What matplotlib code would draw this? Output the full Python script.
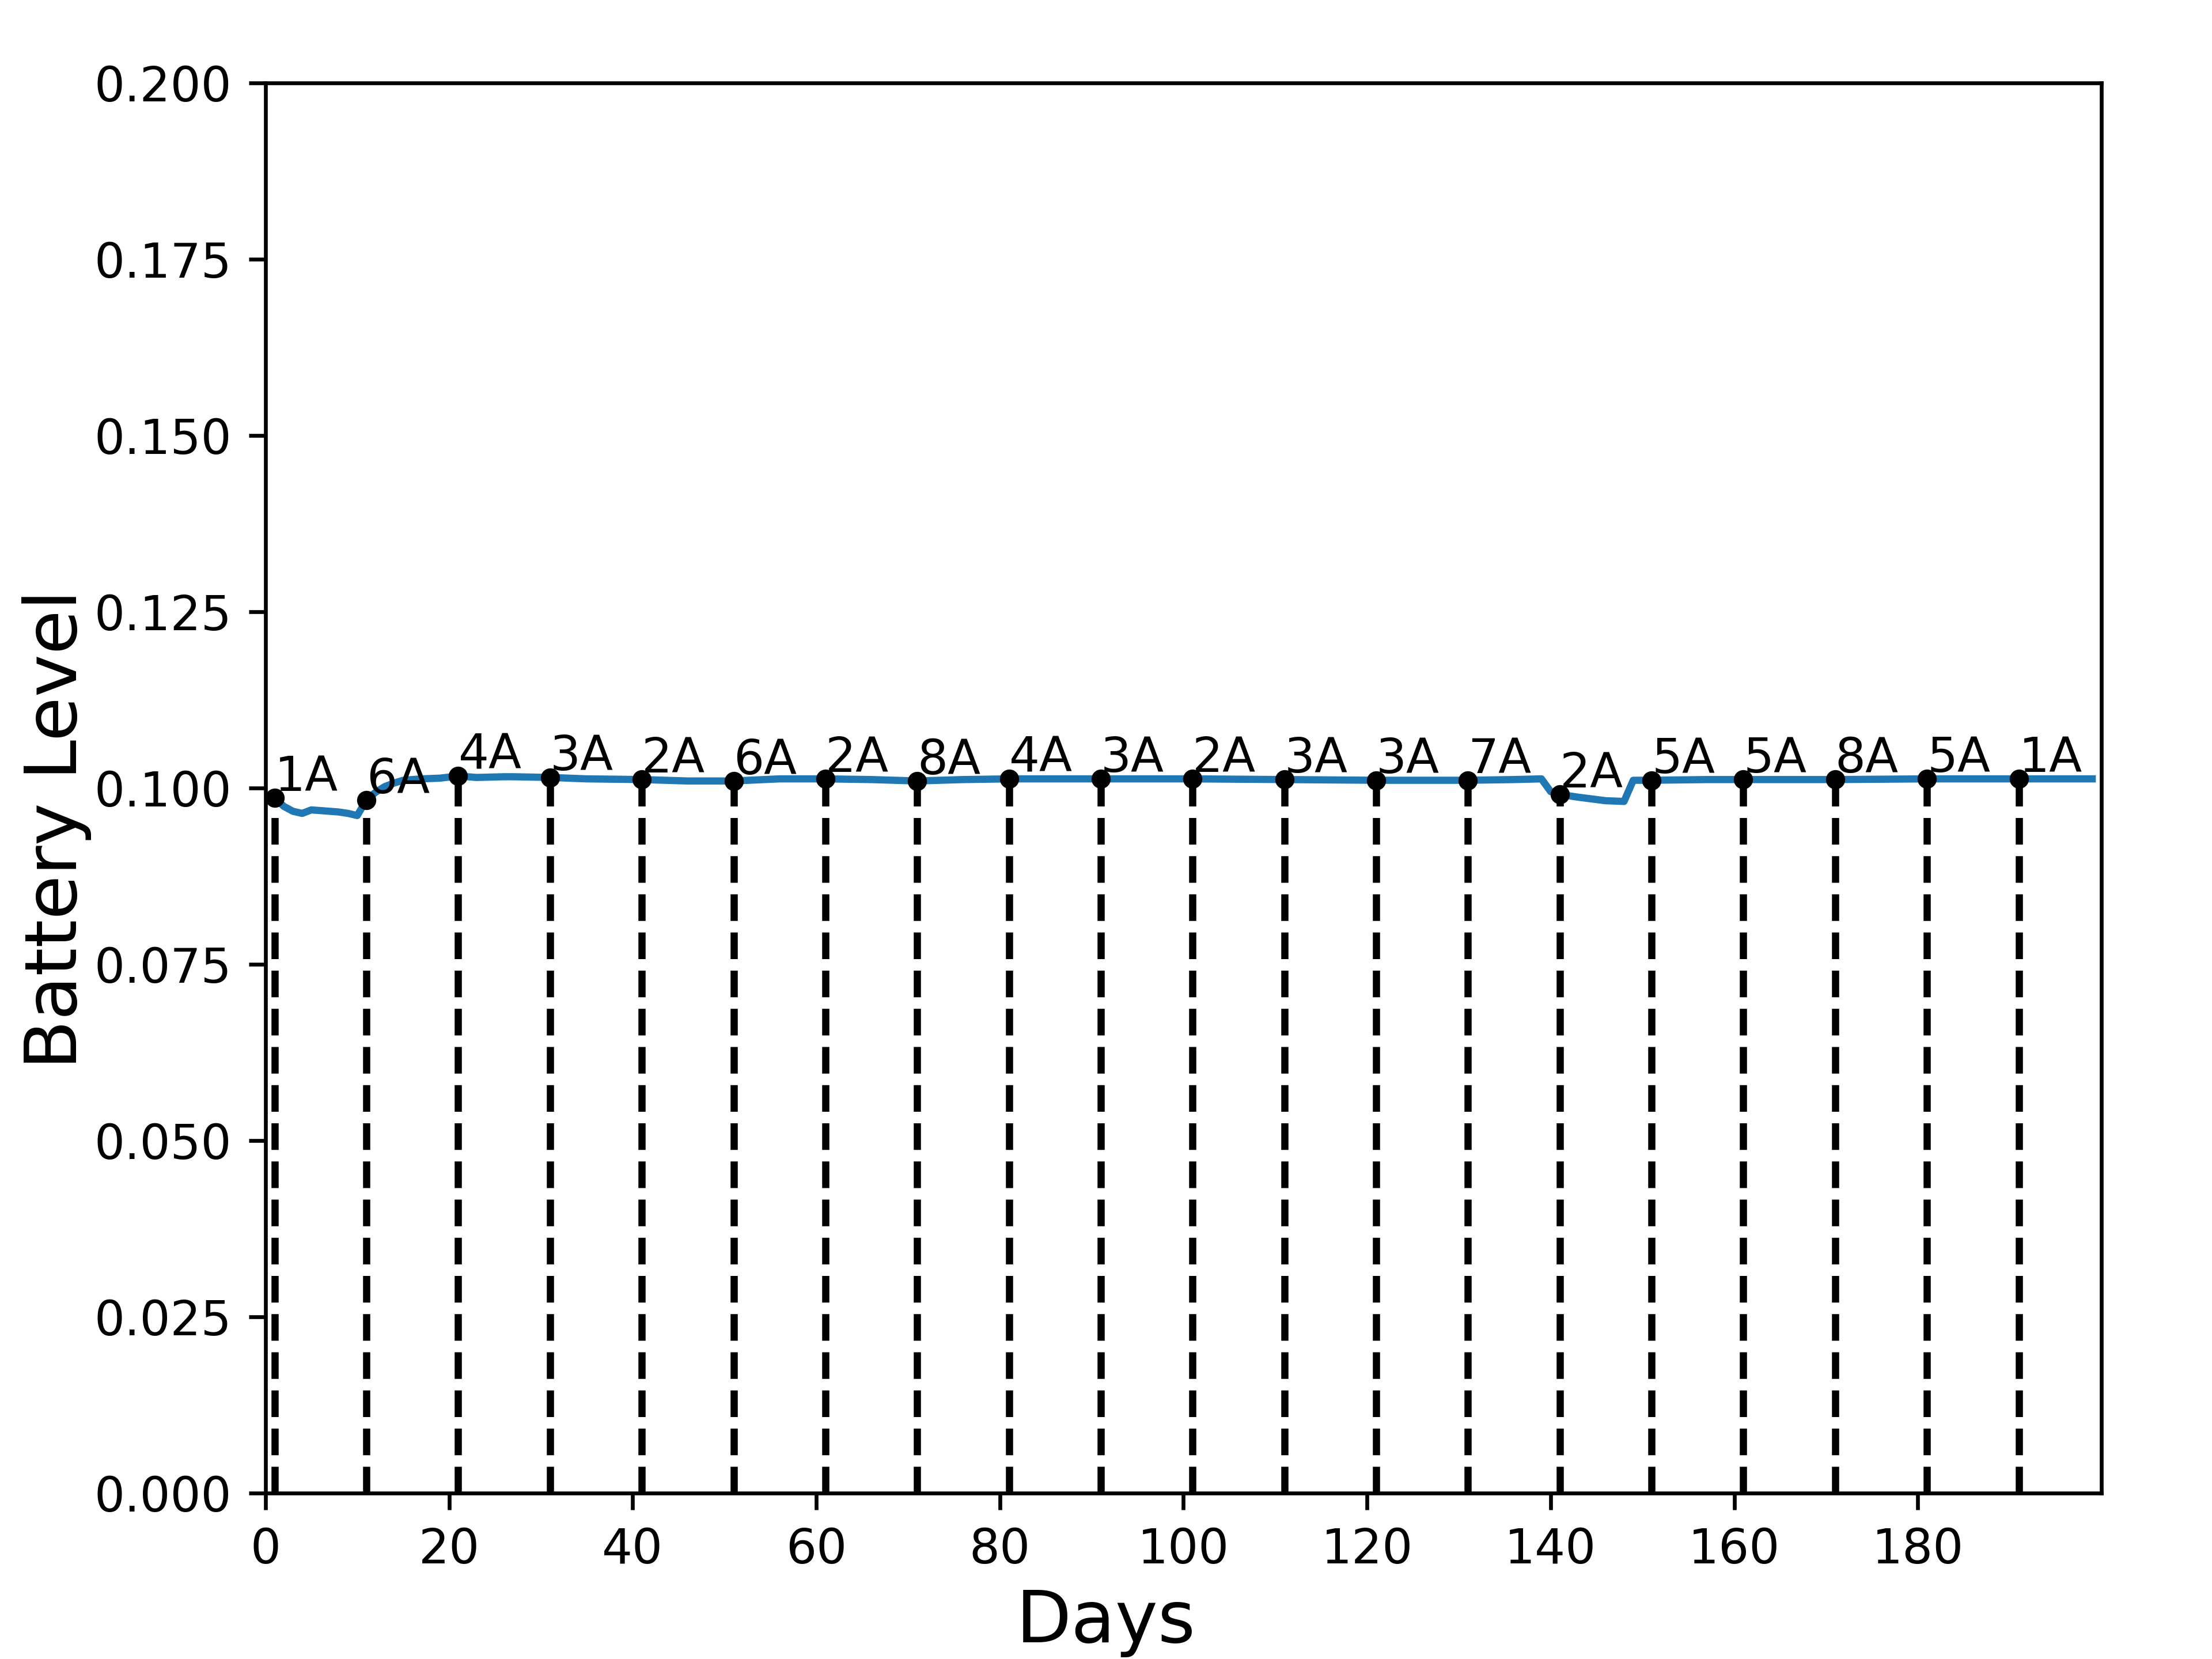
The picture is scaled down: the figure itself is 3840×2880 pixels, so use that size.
import matplotlib
matplotlib.use("Agg")
import matplotlib.pyplot as plt
import numpy as np

# battery level trace (vertices)
line_days = [1, 2, 3, 4, 5, 6, 8, 9, 10, 11, 12, 13, 14, 15, 17, 19, 21, 23, 26, 27,
             31, 35, 41, 46, 51, 56, 61, 66, 71, 76, 81, 91, 101, 111, 121, 131, 136,
             139, 140, 141, 143, 146, 148, 149, 151, 157, 161, 171, 181, 191, 199]
line_levels = [0.0986, 0.0974, 0.0967, 0.0964, 0.0969, 0.0968, 0.0966, 0.0964, 0.0961,
               0.0983, 0.0994, 0.1002, 0.1007, 0.1011, 0.1013, 0.1014, 0.1017, 0.1015,
               0.1016, 0.1016, 0.1015, 0.1013, 0.1012, 0.1010, 0.1010, 0.1013, 0.1013,
               0.1012, 0.1010, 0.1012, 0.1013, 0.1013, 0.1013, 0.1012, 0.1011, 0.1011,
               0.1012, 0.1013, 0.0995, 0.0991, 0.0987, 0.0982, 0.0981, 0.1011, 0.1011,
               0.1012, 0.1012, 0.1012, 0.1013, 0.1013, 0.1013]

# charging events
event_days = [1, 11, 21, 31, 41, 51, 61, 71, 81, 91, 101, 111, 121, 131, 141, 151,
              161, 171, 181, 191]
event_labels = ["1A", "6A", "4A", "3A", "2A", "6A", "2A", "8A", "4A", "3A", "2A", "3A",
                "3A", "7A", "2A", "5A", "5A", "8A", "5A", "1A"]
event_levels = [line_levels[line_days.index(d)] for d in event_days]

fig = plt.figure(figsize=(6.4, 4.8))
plt.subplots_adjust(left=0.12, right=0.95, bottom=0.10, top=0.95)

plt.plot(line_days, line_levels)
plt.vlines(event_days, 0, event_levels, colors="k", linestyles="dashed")
plt.plot(event_days, event_levels, "k.")
for d, lev, lab in zip(event_days, event_levels, event_labels):
    plt.text(d, lev + 0.001, lab)

plt.xlim(0, 200)
plt.ylim(0, 0.2)
plt.xticks(np.arange(0, 200, 20))

# axis labels are centred on the figure, not on the axes
fig.text(0.5, 0.01, "Days", ha="center", fontsize=15)
fig.text(0.01, 0.5, "Battery Level", va="center", rotation="vertical", fontsize=15)

plt.savefig("out.png", dpi=600)
plt.close()
